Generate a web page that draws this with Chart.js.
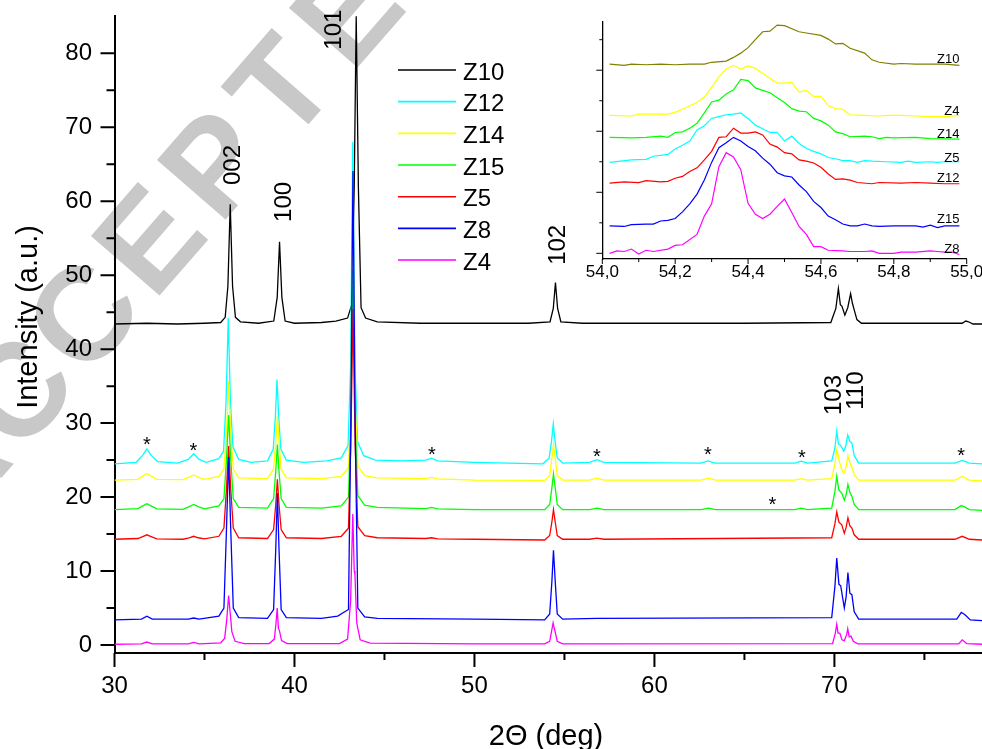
<!DOCTYPE html>
<html>
<head>
<meta charset="utf-8">
<script src="https://cdn.jsdelivr.net/npm/chart.js@4.4.1/dist/chart.umd.min.js"></script>
<style>
  body { margin: 0; background: #fff; }
  #wrap { position: relative; width: 982px; height: 749px; }
  #main { position: absolute; left: 0; top: 0; }
  #inset { position: absolute; left: 540px; top: 0; }
</style>
</head>
<body>
<div id="wrap">
  <canvas id="main" width="982" height="749"></canvas>
  <canvas id="inset" width="442" height="300"></canvas>
</div>
<script>
// ---- main pattern: [2theta, intensity] ----
const z10 = [[30.0,43.4],[31.8,43.5],[33.5,43.4],[35.0,43.5],[35.9,43.6],[36.15,44.3],[36.3,48.5],[36.43,59.6],[36.56,48.5],[36.72,44.3],[37.0,43.7],[38.0,43.5],[38.85,43.8],[39.04,47.0],[39.17,54.5],[39.3,47.0],[39.48,43.8],[40.0,43.5],[41.5,43.6],[42.3,43.8],[42.95,44.2],[43.18,46.0],[43.32,62.0],[43.43,85.0],[43.55,62.0],[43.7,45.6],[43.95,44.2],[44.6,43.7],[47.0,43.5],[50.0,43.5],[53.0,43.5],[54.2,43.7],[54.38,45.5],[54.5,49.0],[54.62,45.5],[54.8,43.7],[56.0,43.5],[60.0,43.5],[65.0,43.5],[69.8,43.6],[70.08,45.5],[70.22,48.2],[70.33,46.0],[70.42,45.8],[70.58,44.6],[70.74,45.6],[70.9,47.5],[71.0,46.2],[71.1,45.3],[71.25,44.0],[71.5,43.5],[75.0,43.5],[77.1,43.5],[77.3,43.8],[77.45,43.7],[77.7,43.4],[78.2,43.4]];
const z12 = [[30.0,24.5],[31.2,24.7],[31.55,25.6],[31.8,26.5],[32.05,25.6],[32.4,24.8],[33.5,24.6],[34.1,25.1],[34.4,25.85],[34.7,25.1],[35.1,24.7],[35.8,25.2],[36.06,26.2],[36.2,33.0],[36.32,44.2],[36.44,33.0],[36.58,26.8],[36.9,25.1],[37.6,24.7],[38.5,24.9],[38.82,26.5],[38.94,31.0],[39.03,35.9],[39.12,31.0],[39.24,26.5],[39.55,25.0],[40.5,24.7],[41.8,24.9],[42.6,25.3],[42.98,27.0],[43.12,38.0],[43.24,68.0],[43.36,38.0],[43.5,27.5],[43.85,25.6],[44.5,25.0],[46.0,24.9],[47.3,25.0],[47.62,25.25],[47.95,24.9],[50.0,24.7],[53.8,24.5],[54.15,25.3],[54.28,27.5],[54.38,29.9],[54.48,27.5],[54.6,25.3],[54.9,24.6],[56.4,24.7],[56.8,25.05],[57.2,24.7],[62.6,24.6],[62.97,24.9],[63.35,24.6],[67.8,24.6],[68.15,24.85],[68.5,24.6],[69.85,24.9],[70.02,26.5],[70.13,28.9],[70.22,27.2],[70.34,27.0],[70.52,26.2],[70.64,27.0],[70.74,28.4],[70.86,27.5],[70.97,27.3],[71.1,25.6],[71.35,24.6],[76.7,24.6],[77.1,24.95],[77.5,24.6],[78.2,24.5]];
const z14 = [[30.0,22.3],[31.3,22.4],[31.6,22.9],[31.8,23.15],[32.0,22.9],[32.35,22.4],[33.8,22.35],[34.15,22.7],[34.4,23.0],[34.65,22.7],[35.0,22.4],[35.8,22.8],[36.08,23.8],[36.22,28.5],[36.34,35.6],[36.46,28.5],[36.6,23.8],[36.9,22.6],[38.5,22.5],[38.84,23.8],[38.96,27.5],[39.05,31.0],[39.14,27.5],[39.26,23.8],[39.55,22.6],[41.5,22.5],[42.6,22.8],[43.0,24.0],[43.13,33.0],[43.25,56.4],[43.37,33.0],[43.52,24.2],[43.9,22.9],[44.6,22.6],[47.3,22.5],[47.62,22.65],[47.95,22.45],[50.0,22.3],[53.9,22.25],[54.18,22.9],[54.3,25.2],[54.39,27.1],[54.49,25.2],[54.6,22.9],[54.9,22.3],[56.4,22.3],[56.8,22.55],[57.2,22.3],[62.6,22.3],[63.0,22.55],[63.4,22.3],[67.8,22.3],[68.15,22.5],[68.5,22.3],[69.85,22.5],[70.03,24.5],[70.14,26.5],[70.25,25.0],[70.4,23.8],[70.52,23.2],[70.64,24.0],[70.75,25.6],[70.86,24.6],[70.98,24.0],[71.1,23.0],[71.35,22.3],[76.7,22.3],[77.1,22.8],[77.5,22.3],[78.2,22.2]];
const z15 = [[30.0,18.3],[31.3,18.45],[31.6,18.85],[31.8,19.1],[32.0,18.85],[32.35,18.4],[33.8,18.35],[34.15,18.7],[34.4,19.0],[34.65,18.7],[35.0,18.4],[35.8,18.8],[36.08,19.8],[36.22,25.0],[36.34,31.1],[36.46,25.0],[36.6,19.8],[36.9,18.6],[38.5,18.5],[38.84,19.8],[38.96,23.5],[39.05,27.1],[39.14,23.5],[39.26,19.8],[39.55,18.6],[41.5,18.5],[42.6,18.8],[43.0,20.0],[43.13,30.0],[43.25,50.8],[43.37,30.0],[43.52,20.2],[43.9,18.9],[44.6,18.6],[47.3,18.45],[47.62,18.6],[47.95,18.4],[50.0,18.3],[53.9,18.3],[54.18,19.0],[54.3,21.2],[54.39,23.1],[54.49,21.2],[54.6,19.0],[54.9,18.3],[56.4,18.3],[56.8,18.5],[57.2,18.3],[62.6,18.3],[63.0,18.5],[63.4,18.3],[67.8,18.3],[68.15,18.5],[68.5,18.3],[69.85,18.5],[70.03,20.8],[70.13,22.8],[70.24,21.0],[70.41,20.5],[70.55,19.6],[70.65,20.3],[70.75,21.7],[70.86,20.6],[70.97,20.1],[71.1,19.0],[71.35,18.3],[76.7,18.3],[77.05,18.85],[77.2,18.7],[77.5,18.3],[78.2,18.2]];
const z5 = [[30.0,14.3],[31.3,14.4],[31.6,14.7],[31.8,14.9],[32.0,14.7],[32.35,14.35],[33.8,14.3],[34.15,14.5],[34.4,14.7],[34.65,14.5],[35.0,14.35],[35.8,14.7],[36.08,15.8],[36.22,21.0],[36.34,26.9],[36.46,21.0],[36.6,15.8],[36.9,14.5],[38.5,14.4],[38.84,15.6],[38.96,19.0],[39.05,22.4],[39.14,19.0],[39.26,15.6],[39.55,14.5],[41.5,14.4],[42.6,14.7],[43.0,15.8],[43.13,27.0],[43.25,45.4],[43.37,27.0],[43.52,16.0],[43.9,14.8],[44.6,14.5],[47.3,14.4],[47.62,14.5],[47.95,14.35],[50.0,14.3],[53.9,14.2],[54.18,14.8],[54.3,16.6],[54.39,18.3],[54.49,16.6],[54.6,14.8],[54.9,14.3],[56.4,14.3],[56.8,14.45],[57.2,14.3],[69.85,14.5],[70.03,16.4],[70.13,18.0],[70.25,16.6],[70.41,16.25],[70.55,15.1],[70.65,15.9],[70.75,17.2],[70.86,16.1],[70.97,15.8],[71.1,14.9],[71.35,14.3],[76.7,14.3],[77.1,14.7],[77.5,14.3],[78.2,14.2]];
const z8 = [[30.0,3.4],[31.5,3.5],[31.8,3.9],[32.1,3.5],[34.1,3.5],[34.4,3.65],[34.7,3.5],[35.8,3.9],[36.08,5.0],[36.22,15.5],[36.34,25.4],[36.46,15.5],[36.6,5.0],[36.9,3.7],[38.5,3.6],[38.84,4.8],[38.96,13.0],[39.05,20.5],[39.14,13.0],[39.26,4.8],[39.55,3.7],[41.5,3.6],[42.4,3.9],[43.0,4.8],[43.13,30.0],[43.25,64.1],[43.37,30.0],[43.52,5.0],[43.9,3.8],[44.6,3.6],[50.0,3.5],[53.9,3.4],[54.18,4.2],[54.3,8.5],[54.39,12.8],[54.49,8.5],[54.6,4.2],[54.9,3.5],[56.8,3.6],[69.85,3.7],[70.03,8.0],[70.13,11.75],[70.25,8.2],[70.35,8.0],[70.55,5.0],[70.65,6.5],[70.75,9.8],[70.86,7.0],[70.97,6.8],[71.1,4.5],[71.35,3.5],[76.8,3.5],[77.05,4.4],[77.2,4.2],[77.3,4.0],[77.55,3.4],[78.2,3.3]];
const z4 = [[30.0,0.1],[31.5,0.15],[31.8,0.4],[32.1,0.15],[34.1,0.15],[34.4,0.35],[34.7,0.15],[35.9,0.3],[36.12,0.9],[36.24,3.5],[36.34,6.7],[36.44,4.0],[36.52,1.8],[36.7,0.5],[37.2,0.2],[38.6,0.2],[38.88,0.8],[38.97,2.8],[39.04,5.0],[39.11,2.2],[39.16,2.0],[39.28,0.6],[39.6,0.2],[42.5,0.2],[42.95,0.8],[43.12,6.0],[43.24,17.7],[43.32,10.0],[43.36,9.5],[43.46,3.0],[43.65,0.7],[44.2,0.25],[50.0,0.15],[53.9,0.15],[54.18,0.5],[54.28,1.8],[54.37,3.0],[54.43,2.3],[54.5,1.6],[54.6,0.5],[54.9,0.15],[69.9,0.2],[70.05,1.6],[70.13,2.8],[70.2,1.6],[70.3,1.6],[70.42,0.7],[70.55,0.6],[70.68,1.4],[70.74,2.2],[70.82,1.1],[70.92,1.2],[71.05,0.5],[71.3,0.15],[76.9,0.15],[77.1,0.7],[77.35,0.2],[78.2,0.1]];

const mainNames = ['Z10', 'Z12', 'Z14', 'Z15', 'Z5', 'Z8', 'Z4'];
const mainColors = ['#000000', '#00ffff', '#ffff00', '#00ff00', '#ff0000', '#0000ff', '#ff00ff'];
const mainSeries = [z10, z12, z14, z15, z5, z8, z4];

const mainXTicks = [30, 35, 40, 45, 50, 55, 60, 65, 70, 75];
const mainYTicks = [0, 5, 10, 15, 20, 25, 30, 35, 40, 45, 50, 55, 60, 65, 70, 75, 80];

// reflection labels and impurity stars, in data units
const peakNames = ['002', '100', '101', '102', '103', '110'];
const peakNameX = [36.47, 39.34, 42.12, 54.53, 69.9, 71.1];
const peakNameY = [64.9, 59.9, 83.2, 54.1, 33.8, 34.4];
const starX = [31.8, 34.39, 47.63, 56.8, 62.97, 68.19, 77.04, 66.56];
const starY = [27.75, 26.84, 26.3, 26.16, 26.3, 25.95, 26.26, 19.64];

// ---- inset: 102 peak zoom ----
const iz10 = [[54.02,3.10],[54.06,3.08],[54.08,3.10],[54.12,3.09],[54.16,3.10],[54.20,3.09],[54.24,3.10],[54.28,3.10],[54.30,3.13],[54.34,3.15],[54.36,3.21],[54.38,3.28],[54.40,3.37],[54.42,3.50],[54.44,3.63],[54.46,3.64],[54.48,3.74],[54.50,3.73],[54.54,3.63],[54.56,3.61],[54.60,3.57],[54.62,3.51],[54.64,3.43],[54.66,3.44],[54.68,3.36],[54.72,3.28],[54.74,3.17],[54.76,3.13],[54.80,3.10],[54.82,3.11],[54.86,3.10],[54.90,3.10],[54.94,3.10],[54.98,3.08]];
const iz4 = [[54.02,2.26],[54.08,2.25],[54.10,2.28],[54.18,2.28],[54.20,2.31],[54.23,2.39],[54.26,2.47],[54.28,2.56],[54.30,2.72],[54.32,2.89],[54.34,3.02],[54.36,3.08],[54.38,3.02],[54.40,3.07],[54.42,3.03],[54.44,2.95],[54.46,2.87],[54.48,2.79],[54.50,2.79],[54.52,2.80],[54.54,2.64],[54.56,2.67],[54.58,2.57],[54.60,2.57],[54.62,2.42],[54.64,2.37],[54.66,2.36],[54.68,2.27],[54.72,2.26],[54.76,2.25],[54.78,2.26],[54.82,2.26],[54.86,2.25],[54.90,2.24],[54.94,2.24],[54.98,2.26]];
const iz14 = [[54.02,1.90],[54.08,1.89],[54.12,1.90],[54.16,1.92],[54.18,1.90],[54.20,1.98],[54.22,1.99],[54.24,2.05],[54.26,2.13],[54.28,2.30],[54.30,2.48],[54.32,2.51],[54.34,2.61],[54.36,2.68],[54.38,2.85],[54.40,2.83],[54.42,2.71],[54.44,2.67],[54.46,2.63],[54.48,2.55],[54.50,2.47],[54.52,2.37],[54.54,2.33],[54.56,2.32],[54.58,2.21],[54.60,2.17],[54.62,2.10],[54.64,1.99],[54.66,1.96],[54.68,1.91],[54.72,1.92],[54.74,1.91],[54.76,1.88],[54.78,1.90],[54.80,1.89],[54.86,1.90],[54.90,1.88],[54.98,1.87]];
const iz5 = [[54.02,1.49],[54.08,1.53],[54.12,1.54],[54.14,1.59],[54.18,1.62],[54.20,1.71],[54.22,1.77],[54.24,1.84],[54.26,2.02],[54.28,2.09],[54.30,2.21],[54.32,2.24],[54.34,2.27],[54.36,2.28],[54.38,2.30],[54.40,2.21],[54.42,2.10],[54.44,2.04],[54.46,1.98],[54.48,1.98],[54.50,1.84],[54.52,1.92],[54.54,1.80],[54.56,1.72],[54.58,1.67],[54.60,1.63],[54.62,1.57],[54.64,1.55],[54.66,1.52],[54.68,1.52],[54.70,1.49],[54.72,1.52],[54.74,1.51],[54.78,1.50],[54.82,1.49],[54.84,1.51],[54.86,1.49],[54.90,1.50],[54.92,1.49],[54.94,1.50],[54.98,1.50]];
const iz12 = [[54.02,1.15],[54.06,1.17],[54.10,1.16],[54.12,1.19],[54.16,1.17],[54.18,1.18],[54.20,1.23],[54.22,1.26],[54.24,1.34],[54.26,1.40],[54.28,1.53],[54.30,1.67],[54.32,1.90],[54.34,1.91],[54.36,2.05],[54.38,1.97],[54.40,1.97],[54.42,1.99],[54.44,1.94],[54.46,1.79],[54.48,1.74],[54.50,1.65],[54.52,1.63],[54.54,1.53],[54.56,1.51],[54.58,1.48],[54.60,1.41],[54.62,1.30],[54.64,1.21],[54.66,1.22],[54.68,1.20],[54.70,1.16],[54.74,1.14],[54.76,1.16],[54.82,1.15],[54.86,1.16],[54.90,1.15],[54.94,1.14],[54.98,1.14]];
const iz15 = [[54.02,0.45],[54.06,0.44],[54.08,0.47],[54.12,0.48],[54.14,0.48],[54.16,0.53],[54.18,0.54],[54.20,0.57],[54.22,0.68],[54.24,0.81],[54.26,0.97],[54.28,1.20],[54.30,1.49],[54.32,1.73],[54.34,1.81],[54.36,1.90],[54.38,1.84],[54.40,1.75],[54.42,1.68],[54.44,1.56],[54.46,1.46],[54.48,1.32],[54.50,1.27],[54.52,1.25],[54.54,1.12],[54.56,1.01],[54.58,0.85],[54.60,0.75],[54.62,0.61],[54.64,0.55],[54.66,0.48],[54.68,0.45],[54.70,0.45],[54.72,0.48],[54.74,0.45],[54.76,0.44],[54.80,0.45],[54.84,0.45],[54.86,0.45],[54.88,0.43],[54.90,0.46],[54.92,0.42],[54.94,0.45],[54.98,0.45]];
const iz8 = [[54.02,0.00],[54.04,0.04],[54.06,0.03],[54.08,0.07],[54.10,-0.01],[54.12,0.05],[54.14,0.03],[54.18,0.07],[54.20,0.13],[54.22,0.14],[54.26,0.31],[54.28,0.61],[54.30,0.81],[54.32,1.42],[54.34,1.65],[54.36,1.58],[54.38,1.37],[54.40,0.82],[54.42,0.64],[54.44,0.57],[54.46,0.64],[54.48,0.77],[54.50,0.89],[54.52,0.67],[54.54,0.44],[54.56,0.31],[54.58,0.11],[54.60,0.11],[54.62,0.05],[54.66,0.04],[54.68,0.03],[54.70,0.03],[54.72,0.03],[54.74,0.04],[54.76,0.00],[54.80,0.00],[54.82,0.02],[54.86,0.02],[54.90,0.04],[54.92,0.03],[54.94,0.02],[54.96,0.02],[54.98,-0.02]];

const insetNames = ['Z10', 'Z4', 'Z14', 'Z5', 'Z12', 'Z15', 'Z8'];
const insetColors = ['#808000', '#ffff00', '#00ff00', '#00ffff', '#ff0000', '#0000ff', '#ff00ff'];
const insetSeries = [iz10, iz4, iz14, iz5, iz12, iz15, iz8];
const insetTagX = 54.98;
const insetTagY = [3.18, 2.32, 1.94, 1.56, 1.23, 0.55, 0.07];

const insetXTicks = [54.0, 54.1, 54.2, 54.3, 54.4, 54.5, 54.6, 54.7, 54.8, 54.9, 55.0];
const insetYTicks = [0, 0.5, 1, 1.5, 2, 2.5, 3, 3.5];

const FONT = "'Liberation Sans', Arial, sans-serif";
Chart.defaults.font.family = FONT;
Chart.defaults.color = '#000';

// outward tick marks, long for major and short for minor
function tickPlugin(cfg) {
    return {
        id: 'tickMarks',
        afterDraw(chart) {
            const ctx = chart.ctx, a = chart.chartArea;
            const xs = chart.scales.x, ys = chart.scales.y;
            ctx.save();
            ctx.strokeStyle = '#000';
            ctx.lineWidth = cfg.width;
            ctx.beginPath();
            cfg.xTicks.forEach(v => {
                const p = xs.getPixelForValue(v);
                const len = cfg.xMajor(v) ? cfg.xLong : cfg.xShort;
                ctx.moveTo(p, a.bottom);
                ctx.lineTo(p, a.bottom + len);
            });
            cfg.yTicks.forEach(v => {
                const p = ys.getPixelForValue(v);
                const len = cfg.yMajor(v) ? cfg.yLong : cfg.yShort;
                ctx.moveTo(a.left, p);
                ctx.lineTo(a.left - len, p);
            });
            ctx.stroke();
            ctx.restore();
        }
    };
}

function fixedTicks(list) {
    return scale => { scale.ticks = list.map(v => ({ value: v })); };
}

// text drawn rotated by -90deg, centred on the cap height
function upText(ctx, txt, x, y, size) {
    ctx.save();
    ctx.translate(x, y);
    ctx.rotate(-Math.PI / 2);
    ctx.font = size + 'px ' + FONT;
    ctx.textAlign = 'center';
    ctx.textBaseline = 'alphabetic';
    ctx.fillText(txt, 0, size * 0.358);
    ctx.restore();
}

const watermark = {
    id: 'watermark',
    beforeDraw(chart) {
        const ctx = chart.ctx;
        const letters = 'ACCEPTED'.split('');
        const size = 132;
        ctx.save();
        ctx.fillStyle = '#c8c8c8';
        ctx.font = 'bold ' + size + 'px ' + FONT;
        ctx.textAlign = 'center';
        ctx.textBaseline = 'alphabetic';
        letters.forEach((ch, i) => {
            ctx.save();
            ctx.translate(180 + 66 * (i - 3.5), 200 - 76 * (i - 3.5));
            ctx.rotate(-49 * Math.PI / 180);
            ctx.fillText(ch, 0, size * 0.358);
            ctx.restore();
        });
        ctx.restore();
    }
};

const mainText = {
    id: 'mainText',
    afterDraw(chart) {
        const ctx = chart.ctx, xs = chart.scales.x, ys = chart.scales.y;
        ctx.save();
        ctx.fillStyle = '#000';

        // legend
        chart.data.datasets.forEach((ds, i) => {
            const y = 70 + 31.67 * i;
            ctx.strokeStyle = ds.borderColor;
            ctx.lineWidth = 1.6;
            ctx.beginPath();
            ctx.moveTo(398, y);
            ctx.lineTo(456, y);
            ctx.stroke();
            ctx.font = '24px ' + FONT;
            ctx.textAlign = 'left';
            ctx.textBaseline = 'alphabetic';
            ctx.fillText(ds.label, 463, y + 9.5);
        });

        peakNames.forEach((t, i) => {
            upText(ctx, t, xs.getPixelForValue(peakNameX[i]), ys.getPixelForValue(peakNameY[i]), 24);
        });

        ctx.font = '20px ' + FONT;
        ctx.textAlign = 'center';
        ctx.textBaseline = 'alphabetic';
        starX.forEach((x, i) => {
            ctx.fillText('*', xs.getPixelForValue(x), ys.getPixelForValue(starY[i]) + 11);
        });

        // axis titles
        ctx.font = '29px ' + FONT;
        ctx.textAlign = 'center';
        ctx.fillText('2\u0398 (deg)', 546, 745);
        ctx.save();
        ctx.translate(29, 317);
        ctx.rotate(-Math.PI / 2);
        ctx.textBaseline = 'middle';
        ctx.fillText('Intensity (a.u.)', 0, 0);
        ctx.restore();

        ctx.restore();
    }
};

const insetText = {
    id: 'insetText',
    afterDatasetsDraw(chart) {
        const ctx = chart.ctx, xs = chart.scales.x, ys = chart.scales.y;
        ctx.save();
        ctx.fillStyle = '#000';
        ctx.font = '13px ' + FONT;
        ctx.textAlign = 'right';
        ctx.textBaseline = 'middle';
        insetNames.forEach((t, i) => {
            ctx.fillText(t, xs.getPixelForValue(insetTagX), ys.getPixelForValue(insetTagY[i]));
        });
        ctx.restore();
    }
};

new Chart(document.getElementById('main'), {
    type: 'scatter',
    data: {
        datasets: mainSeries.map((s, i) => ({
            label: mainNames[i],
            data: s,
            borderColor: mainColors[i],
            backgroundColor: mainColors[i],
            borderWidth: 1.3,
            showLine: true,
            pointRadius: 0,
            tension: 0,
            order: mainSeries.length - 1 - i,
        })),
    },
    options: {
        responsive: false,
        animation: false,
        layout: { padding: { top: 15.7, left: 0, right: 0, bottom: 0 } },
        plugins: { legend: { display: false }, tooltip: { enabled: false } },
        scales: {
            x: {
                type: 'linear', min: 30, max: 78.2,
                afterBuildTicks: fixedTicks(mainXTicks),
                afterFit(s) { s.height = 96; s.paddingLeft = 0; s.paddingRight = 0; },
                grid: { drawOnChartArea: false, drawTicks: true, tickLength: 14, tickColor: 'rgba(0,0,0,0)' },
                border: { display: true, color: '#000', width: 2 },
                ticks: {
                    padding: 5, maxRotation: 0, autoSkip: false,
                    font: { size: 24 }, color: '#000',
                    callback: v => (v % 10 === 0 ? String(v) : ''),
                },
            },
            y: {
                type: 'linear', min: -1.08, max: 85.08,
                afterBuildTicks: fixedTicks(mainYTicks),
                afterFit(s) { s.width = 114.5; s.paddingTop = 0; s.paddingBottom = 0; },
                grid: { drawOnChartArea: false, drawTicks: true, tickLength: 14, tickColor: 'rgba(0,0,0,0)' },
                border: { display: true, color: '#000', width: 2 },
                ticks: {
                    padding: 8.5, autoSkip: false,
                    font: { size: 24 }, color: '#000',
                    callback: v => (v % 10 === 0 ? String(v) : ''),
                },
            },
        },
    },
    plugins: [watermark, tickPlugin({
        width: 2, xTicks: mainXTicks, yTicks: mainYTicks,
        xMajor: v => v % 10 === 0, yMajor: v => v % 10 === 0,
        xLong: 14, xShort: 7, yLong: 14, yShort: 8,
    }), mainText],
});

new Chart(document.getElementById('inset'), {
    type: 'scatter',
    data: {
        datasets: insetSeries.map((s, i) => ({
            label: insetNames[i],
            data: s,
            borderColor: insetColors[i],
            backgroundColor: insetColors[i],
            borderWidth: 1.2,
            showLine: true,
            pointRadius: 0,
            tension: 0,
        })),
    },
    options: {
        responsive: false,
        animation: false,
        layout: { padding: { top: 22, left: 0, right: 15.3, bottom: 0 } },
        plugins: { legend: { display: false }, tooltip: { enabled: false } },
        scales: {
            x: {
                type: 'linear', min: 54, max: 55,
                afterBuildTicks: fixedTicks(insetXTicks),
                afterFit(s) { s.height = 41; s.paddingLeft = 0; s.paddingRight = 0; },
                grid: { drawOnChartArea: false, drawTicks: true, tickLength: 3, tickColor: 'rgba(0,0,0,0)' },
                border: { display: true, color: '#000', width: 1.3 },
                ticks: {
                    padding: 0, maxRotation: 0, autoSkip: false,
                    font: { size: 17 }, color: '#000',
                    callback: v => (Math.round(v * 10) % 2 === 0 ? v.toFixed(1).replace('.', ',') : ''),
                },
            },
            y: {
                type: 'linear', min: -0.093, max: 3.79,
                afterBuildTicks: fixedTicks(insetYTicks),
                afterFit(s) { s.width = 62.3; s.paddingTop = 0; s.paddingBottom = 0; },
                grid: { display: false },
                border: { display: true, color: '#000', width: 1.3 },
                ticks: { display: false },
            },
        },
    },
    plugins: [tickPlugin({
        width: 1, xTicks: insetXTicks, yTicks: insetYTicks,
        xMajor: v => Math.round(v * 10) % 2 === 0, yMajor: v => Number.isInteger(v),
        xLong: 5, xShort: 3, yLong: 6, yShort: 3,
    }), insetText],
});
</script>
</body>
</html>
